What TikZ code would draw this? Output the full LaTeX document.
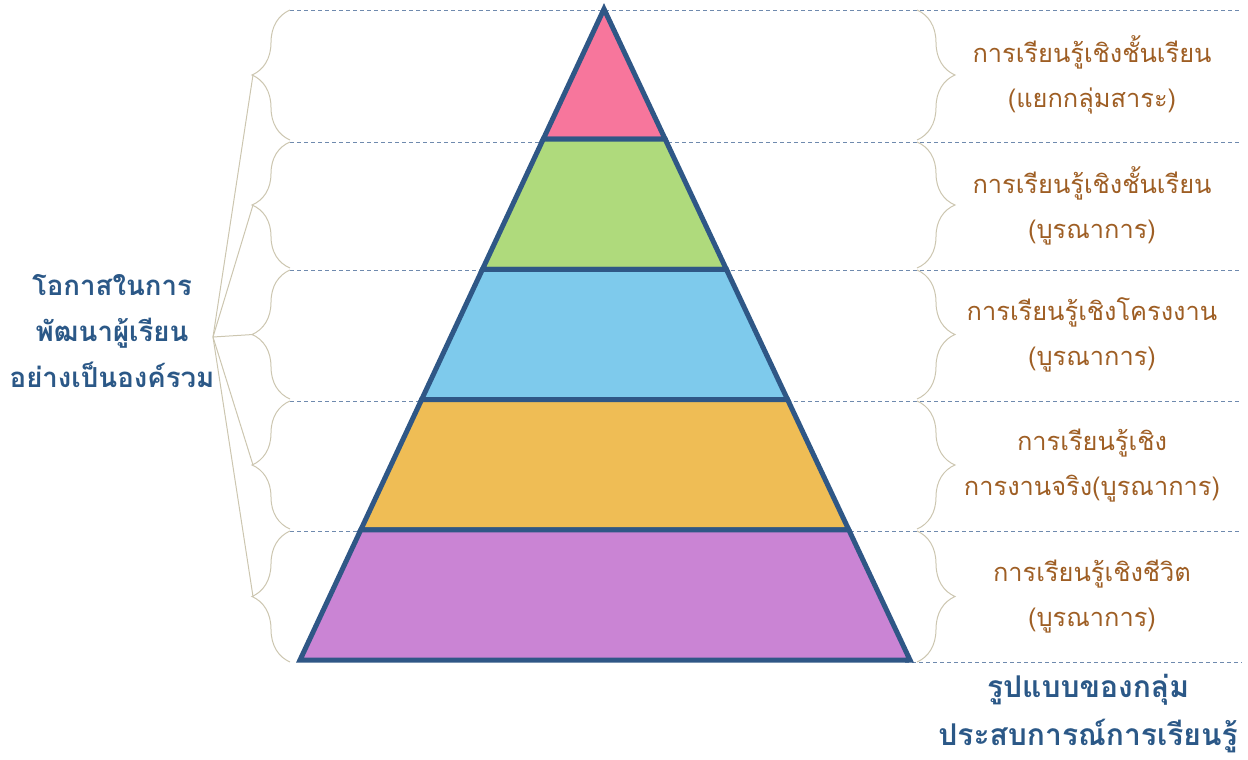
\documentclass[tikz,border=0pt]{standalone}
\usepackage{fontspec}
\newfontfamily\thaifont[Script=Thai]{Loma}
\usepackage{tikz}
\usetikzlibrary{calc, positioning, decorations.pathreplacing}

\definecolor{pinkT}{HTML}{F7769C}
\definecolor{greenT}{HTML}{AFDA7C}
\definecolor{blueT}{HTML}{7ECAEC}
\definecolor{orangeT}{HTML}{EFBD55}
\definecolor{purpleT}{HTML}{CA84D4}
\definecolor{edgeblue}{HTML}{2F5786}
\definecolor{guideblue}{HTML}{6F8AAE}
\definecolor{bracegray}{HTML}{CCC6B0}
\definecolor{labelbrown}{HTML}{9E5E24}
\definecolor{headblue}{HTML}{2B5887}

\begin{document}
\begin{tikzpicture}[
    x=0.5pt, y=-0.5pt,
    guide/.style={draw=guideblue, dash pattern=on 2pt off 1.5pt, line width=0.4pt},
    brc/.style={draw=bracegray, line width=0.5pt, decorate,
                decoration={brace, amplitude=19pt}},
    link/.style={draw=bracegray, line width=0.5pt},
    tier/.style={draw=edgeblue, line width=2.5pt, line join=miter},
    lbl/.style={font=\thaifont\fontsize{12.7}{22.5}\selectfont, text=labelbrown, align=center},
    head/.style={font=\thaifont\bfseries\fontsize{13.8}{23}\selectfont, text=headblue, align=center},
    foot/.style={head, font=\thaifont\bfseries\fontsize{15}{24}\selectfont}
]
\useasboundingbox (0,0) rectangle (1248,760);

% Guide lines
\foreach \y in {10,142,270,401,531}
    \draw[guide] (290,\y) -- (1242,\y);
\draw[guide] (905,662) -- (1242,662);

% Braces, left and right
\foreach \t/\b [count=\i] in {10/140,142/268,270/399,401/529,531/662} {
    \draw[brc] (290,\b) -- (290,\t);
    \draw[brc] (917,\t) -- (917,\b);
    \coordinate (lt\i) at (253,{(\t+\b)/2});
}

% Pyramid
\coordinate (apex) at (604,9);
\coordinate (bl) at (300,660);
\coordinate (br) at (910,660);
\foreach \c [count=\i] in {pinkT,greenT,blueT,orangeT,purpleT} {
    \pgfmathsetmacro\a{(\i-1)/5}
    \pgfmathsetmacro\b{\i/5}
    \filldraw[tier, fill=\c] ($(apex)!\a!(bl)$) -- ($(apex)!\b!(bl)$)
        -- ($(apex)!\b!(br)$) -- ($(apex)!\a!(br)$) -- cycle;
}

% Levels
\node[lbl] (lv1) at (1092,75) {การเรียนรู้เชิงชั้นเรียน\\(แยกกลุ่มสาระ)};
\node[lbl] (lv2) at (1092,206) {การเรียนรู้เชิงชั้นเรียน\\(บูรณาการ)};
\node[lbl] (lv3) at (1092,335) {การเรียนรู้เชิงโครงงาน\\(บูรณาการ)};
\node[lbl] (lv4) at (1092,466) {การเรียนรู้เชิง\\การงานจริง(บูรณาการ)};
\node[lbl] (lv5) at (1092,597) {การเรียนรู้เชิงชีวิต\\(บูรณาการ)};

% Headings
\node[head] (whole) at (112,331) {โอกาสในการ\\พัฒนาผู้เรียน\\อย่างเป็นองค์รวม};
\node[foot] (model) at (1088,714) {รูปแบบของกลุ่ม\\ประสบการณ์การเรียนรู้};

% Links to braces
\coordinate (hub) at (213,337);
\foreach \i in {1,...,5}
    \draw[link] (hub) -- (lt\i);
\end{tikzpicture}
\end{document}
